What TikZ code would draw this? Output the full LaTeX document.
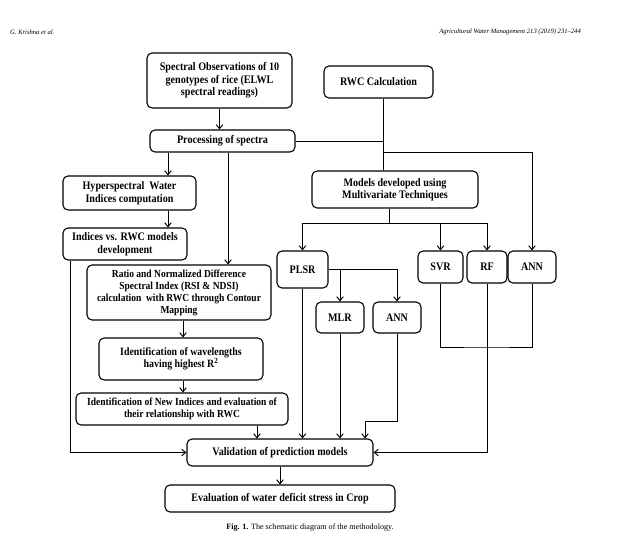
\documentclass[tikz,border=0pt]{standalone}
\usepackage{fontspec}
\setmainfont{Liberation Serif}
\newfontfamily\bx{Liberation Serif}[FakeStretch=0.88]
\usetikzlibrary{arrows.meta}
\tikzset{
  box/.style={draw, line width=1.1pt, rounded corners=5pt, align=center,
    font=\bx\bfseries\fontsize{11.5}{12.5}\selectfont, inner sep=1pt},
  sbox/.style={box, font=\bx\bfseries\fontsize{10.8}{12}\selectfont},
  ln/.style={line width=0.95pt},
  arr/.style={ln, -{Straight Barb[length=4pt,width=6.5pt,line width=0.95pt]}},
  hdr/.style={font=\itshape\fontsize{6.6}{8}\selectfont, inner sep=0pt},
}
\begin{document}
\begin{tikzpicture}[x=1pt,y=-1pt]
\fill[white] (0,0) rectangle (625,541);
\useasboundingbox (0,0) rectangle (625,541);
% header
\node[hdr, anchor=west] (hl) at (10,32) {G. Krishna et al.};
\node[hdr, anchor=east] (hr) at (581,32) {Agricultural Water Management 213 (2019) 231–244};
% boxes
\node[box, minimum width=145, minimum height=55] (obs) at (219.5,80.5) {Spectral Observations of 10\\genotypes of rice (ELWL\\spectral readings)};
\node[box, minimum width=109, minimum height=32] (rwc) at (378.5,82) {RWC Calculation};
\node[box, minimum width=145, minimum height=22] (proc) at (222.5,141) {Processing of spectra};
\node[box, minimum width=133, minimum height=34] (hyp) at (129.5,193) {Hyperspectral\ \ Water\\Indices computation};
\node[box, minimum width=124, minimum height=32] (ind) at (125,244) {Indices vs. RWC models\\development};
\node[sbox, minimum width=184, minimum height=55] (ratio) at (179,292.5) {Ratio and Normalized Difference\\Spectral Index (RSI \& NDSI)\\calculation\ \ with RWC through Contour\\Mapping};
\node[box, font=\bx\bfseries\fontsize{11.2}{12.5}\selectfont, minimum width=164, minimum height=42] (wave) at (181,359) {Identification of wavelengths\\having highest R\textsuperscript{2}};
\node[sbox, minimum width=212, minimum height=32] (newi) at (182,409) {Identification of New Indices and evaluation of\\their relationship with RWC};
\node[box, minimum width=166, minimum height=37] (models) at (395,189.5) {Models developed using\\Multivariate Techniques};
\node[box, minimum width=51, minimum height=37] (plsr) at (302.5,269.5) {PLSR};
\node[box, minimum width=48, minimum height=31] (mlr) at (340,317.5) {MLR};
\node[box, minimum width=48, minimum height=31] (ann1) at (397,317.5) {ANN};
\node[box, minimum width=45, minimum height=32] (svr) at (440.5,267) {SVR};
\node[box, minimum width=40, minimum height=32] (rf) at (487,267) {RF};
\node[box, minimum width=48, minimum height=32] (ann2) at (532,267) {ANN};
\node[box, minimum width=186, minimum height=27] (valid) at (280,452.5) {Validation of prediction models};
\node[box, minimum width=230, minimum height=27] (eval) at (280,498.5) {Evaluation of water deficit stress in Crop};
% caption
\node[font=\fontsize{8.1}{9}\selectfont] (cap) at (310,528) {\textbf{Fig. 1.} The schematic diagram of the methodology.};
% helper coordinates
\coordinate (xr) at (383,0);
\coordinate (jr) at (383,152);
\coordinate (xa) at (168,0);
\coordinate (xb) at (228,0);
\coordinate (xc) at (70,0);
\coordinate (xd) at (183,0);
\coordinate (xe) at (257,0);
\coordinate (jm) at (389,223);
\coordinate (ja) at (397,421);
\coordinate (jb2) at (365,421);
\coordinate (jb) at (487,347);
% connectors
\draw[arr] (obs.south) -- (obs.south |- proc.north);
\draw[ln] (rwc.south -| xr) -- (models.north -| xr);
\draw[ln] (proc.east) -- (proc.east -| xr);
\draw[arr] (jr) -| (ann2.north);
\draw[arr] (proc.south -| xa) -- (hyp.north -| xa);
\draw[arr] (proc.south -| xb) -- (ratio.north -| xb);
\draw[arr] (hyp.south -| xa) -- (ind.north -| xa);
\draw[arr] (ind.south -| xc) |- (valid.west);
\draw[arr] (ratio.south -| xd) -- (wave.north -| xd);
\draw[arr] (wave.south -| xd) -- (newi.north -| xd);
\draw[arr] (newi.south -| xe) -- (valid.north -| xe);
\draw[ln] (models.south -| jm) -- (jm);
\draw[arr] (jm) -| (plsr.north);
\draw[arr] (jm) -| (svr.north);
\draw[arr] (jm) -| (rf.north);
\draw[arr] (plsr.east) -| (ann1.north);
\draw[arr] (plsr.east -| mlr) -- (mlr.north);
\draw[arr] (plsr.south) -- (plsr.south |- valid.north);
\draw[arr] (mlr.south) -- (mlr.south |- valid.north);
\draw[arr] (ann1.south) -- (ja) -- (jb2) -- (jb2 |- valid.north);
\draw[ln] (svr.south) |- (jb) -| (ann2.south);
\draw[ln] (rf.south) -- (jb);
\draw[arr] (jb) |- (valid.east);
\draw[arr] (valid.south) -- (eval.north);
\end{tikzpicture}
\end{document}
